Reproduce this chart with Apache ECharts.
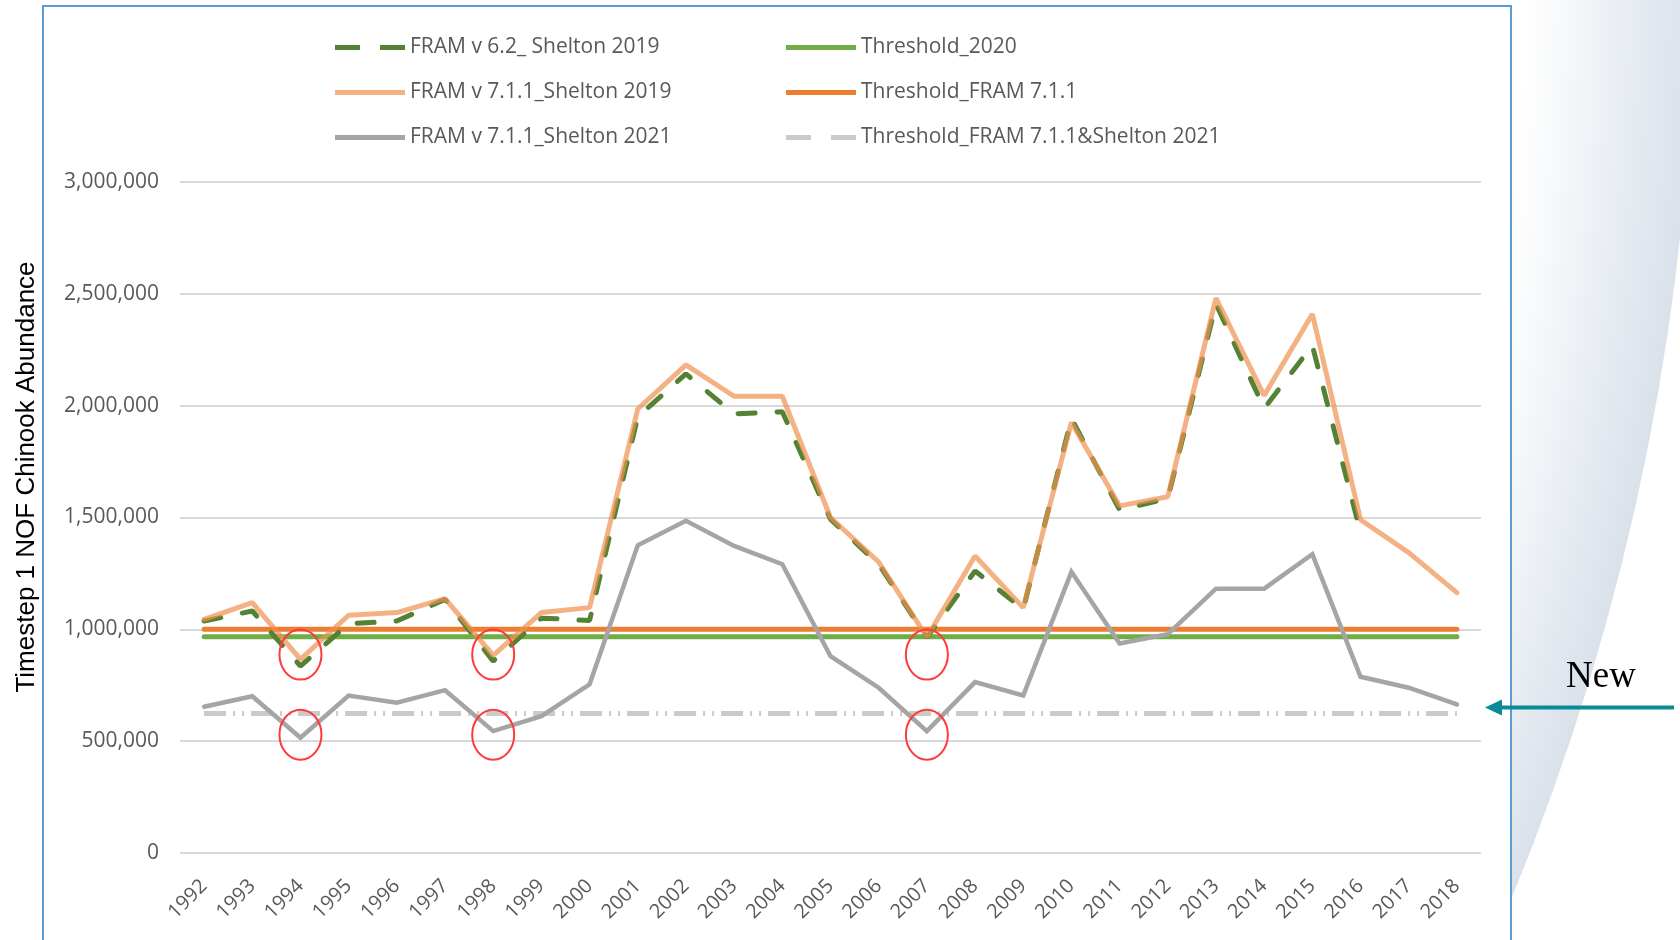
<!DOCTYPE html>
<html>
<head>
<meta charset="utf-8">
<title>Timestep 1 NOF Chinook Abundance</title>
<script src="https://cdn.jsdelivr.net/npm/echarts@6/dist/echarts.min.js"></script>
<style>
  html, body { margin: 0; padding: 0; background: #fff; }
  #main { width: 1680px; height: 940px; }
</style>
</head>
<body>
<div id="main"></div>
<script>
// years on the x axis
const years = ['1992','1993','1994','1995','1996','1997','1998','1999','2000','2001','2002','2003','2004',
  '2005','2006','2007','2008','2009','2010','2011','2012','2013','2014','2015','2016','2017','2018'];

// abundance series
const fram62Shelton2019 = [1037000, 1082000, 836000, 1025000, 1037000, 1134000, 858000, 1050000, 1040000,
  1950000, 2142000, 1963000, 1973000, 1492000, 1291000, 963000, 1261000, 1090000, 1943000, 1534000, 1585000,
  2455000, 1988000, 2269000, 1433000, null, null];
const fram711Shelton2019 = [1045000, 1119000, 866000, 1063000, 1075000, 1137000, 884000, 1075000, 1097000,
  1985000, 2182000, 2042000, 2042000, 1500000, 1301000, 965000, 1328000, 1097000, 1925000, 1552000, 1593000,
  2481000, 2045000, 2410000, 1490000, 1343000, 1164000];
const fram711Shelton2021 = [654000, 701000, 515000, 704000, 672000, 728000, 545000, 612000, 754000,
  1376000, 1485000, 1373000, 1291000, 880000, 739000, 545000, 764000, 704000, 1257000, 937000, 978000,
  1182000, 1182000, 1336000, 788000, 739000, 664000];

// thresholds
const threshold2020 = [967000, 967000, 967000, 967000, 967000, 967000, 967000, 967000, 967000,
  967000, 967000, 967000, 967000, 967000, 967000, 967000, 967000, 967000, 967000, 967000, 967000,
  967000, 967000, 967000, 967000, 967000, 967000];
const thresholdFram711 = [1000000, 1000000, 1000000, 1000000, 1000000, 1000000, 1000000, 1000000, 1000000,
  1000000, 1000000, 1000000, 1000000, 1000000, 1000000, 1000000, 1000000, 1000000, 1000000, 1000000, 1000000,
  1000000, 1000000, 1000000, 1000000, 1000000, 1000000];
const thresholdFram711Shelton2021 = [624000, 624000, 624000, 624000, 624000, 624000, 624000, 624000, 624000,
  624000, 624000, 624000, 624000, 624000, 624000, 624000, 624000, 624000, 624000, 624000, 624000,
  624000, 624000, 624000, 624000, 624000, 624000];

// y axis ticks
const yTicks = [0, 500000, 1000000, 1500000, 2000000, 2500000, 3000000];

// red annotation rings: years and the two levels they sit on
const circledYears = ['1994', '1998', '2007'];
const circledLevels = [887000, 529000];

const names = {
  f62: 'FRAM v 6.2_ Shelton 2019',
  f19: 'FRAM v 7.1.1_Shelton 2019',
  f21: 'FRAM v 7.1.1_Shelton 2021',
  t20: 'Threshold_2020',
  t711: 'Threshold_FRAM 7.1.1',
  t21: 'Threshold_FRAM 7.1.1&Shelton 2021'
};

var font = '"Open Sans", "Liberation Sans", sans-serif';
var solidIcon = 'path://M0 0H70V5H0Z';
var dashIcon = 'path://M0 0H25V5H0Z M45 0H70V5H45Z';
var chart = echarts.init(document.getElementById('main'));

var legendBase = {
  orient: 'vertical',
  top: 32,
  itemWidth: 70,
  itemHeight: 5,
  itemGap: 24,
  selectedMode: false,
  textStyle: { fontFamily: font, fontSize: 21, color: '#595959' }
};

var option = {
  animation: false,
  backgroundColor: 'transparent',
  grid: { left: 180, right: 199, top: 182, bottom: 87 },
  legend: [
    Object.assign({}, legendBase, {
      left: 330,
      data: [
        { name: names.f62, icon: dashIcon },
        { name: names.f19, icon: solidIcon },
        { name: names.f21, icon: solidIcon }
      ]
    }),
    Object.assign({}, legendBase, {
      left: 781,
      data: [
        { name: names.t20, icon: solidIcon },
        { name: names.t711, icon: solidIcon },
        { name: names.t21, icon: dashIcon }
      ]
    })
  ],
  xAxis: {
    type: 'category',
    data: years,
    axisLine: { show: false },
    axisTick: { show: false },
    axisLabel: { rotate: 45, margin: 30, fontFamily: font, fontSize: 20, color: '#595959' }
  },
  yAxis: {
    type: 'value',
    min: yTicks[0],
    max: yTicks[yTicks.length - 1],
    interval: 500000,
    axisLine: { show: false },
    axisTick: { show: false },
    axisLabel: {
      margin: 21, fontFamily: font, fontSize: 21, color: '#595959',
      formatter: function (v) { return v.toLocaleString('en-US'); }
    },
    splitLine: { lineStyle: { color: '#D9D9D9', width: 2 } }
  },
  series: [
    {
      name: names.t21, type: 'line', data: thresholdFram711Shelton2021, symbol: 'none',
      lineStyle: { color: '#CACACA', width: 5, type: [22, 7, 2, 7, 2, 7], cap: 'butt' },
      itemStyle: { color: '#CACACA' }
    },
    {
      name: names.t20, type: 'line', data: threshold2020, symbol: 'none',
      lineStyle: { color: '#70AD47', width: 5, cap: 'round' }, itemStyle: { color: '#70AD47' }
    },
    {
      name: names.t711, type: 'line', data: thresholdFram711, symbol: 'none',
      lineStyle: { color: '#ED7D31', width: 5, cap: 'round' }, itemStyle: { color: '#ED7D31' }
    },
    {
      name: names.f21, type: 'line', data: fram711Shelton2021, symbol: 'none',
      lineStyle: { color: '#A5A5A5', width: 4.5, cap: 'round', join: 'miter' }, itemStyle: { color: '#A5A5A5' }
    },
    {
      name: names.f62, type: 'line', data: fram62Shelton2019, symbol: 'none',
      lineStyle: { color: '#548235', width: 5, type: [17, 22], cap: 'round' }, itemStyle: { color: '#548235' }
    },
    {
      name: names.f19, type: 'line', data: fram711Shelton2019, symbol: 'none',
      lineStyle: { color: '#EF904E', width: 5, opacity: 0.7, cap: 'round' }, itemStyle: { color: '#F4B183' }
    }
  ]
};

chart.setOption(option);

// annotations placed through the chart's own scales
var marks = [];
circledYears.forEach(function (yr) {
  circledLevels.forEach(function (lv) {
    var p = chart.convertToPixel({ gridIndex: 0 }, [years.indexOf(yr), lv]);
    marks.push({
      type: 'ellipse', z: 20,
      shape: { cx: p[0], cy: p[1], rx: 21, ry: 25 },
      style: { fill: 'none', stroke: '#FF3A3A', lineWidth: 2 }
    });
  });
});
var last = years.length - 1;
var arrowY = chart.convertToPixel({ gridIndex: 0 }, [last, fram711Shelton2021[last]])[1] + 3;

chart.setOption({
  graphic: [
    {
      type: 'circle', z: -5, silent: true,
      shape: { cx: -718, cy: -22, r: 2412 },
      style: {
        fill: {
          type: 'radial', x: 0.5, y: 0.5, r: 0.5,
          colorStops: [
            { offset: 0, color: '#ffffff' },
            { offset: 0.93, color: '#ffffff' },
            { offset: 1, color: '#D9E1EA' }
          ]
        }
      }
    },
    {
      type: 'rect', z: -4, silent: true,
      shape: { x: 43, y: 6, width: 1468, height: 960 },
      style: { fill: '#ffffff', stroke: '#5B9BD5', lineWidth: 2 }
    },
    {
      type: 'text', z: 20, x: 27, y: 477, rotation: Math.PI / 2,
      style: {
        text: 'Timestep 1 NOF Chinook Abundance',
        font: '26px "Liberation Sans", Arial, sans-serif',
        fill: '#000', align: 'center', verticalAlign: 'middle'
      }
    },
    {
      type: 'line', z: 20,
      shape: { x1: 1674, y1: arrowY, x2: 1496, y2: arrowY },
      style: { stroke: '#0A8A96', lineWidth: 4 }
    },
    {
      type: 'polygon', z: 20,
      shape: { points: [[1485, arrowY], [1502, arrowY - 8], [1502, arrowY + 8]] },
      style: { fill: '#0A8A96' }
    },
    {
      type: 'text', z: 20, x: 1601, y: arrowY - 12,
      style: {
        text: 'New', font: '37px "Liberation Serif", "Times New Roman", serif',
        fill: '#000', align: 'center', verticalAlign: 'bottom'
      }
    }
  ].concat(marks)
});
</script>
</body>
</html>
